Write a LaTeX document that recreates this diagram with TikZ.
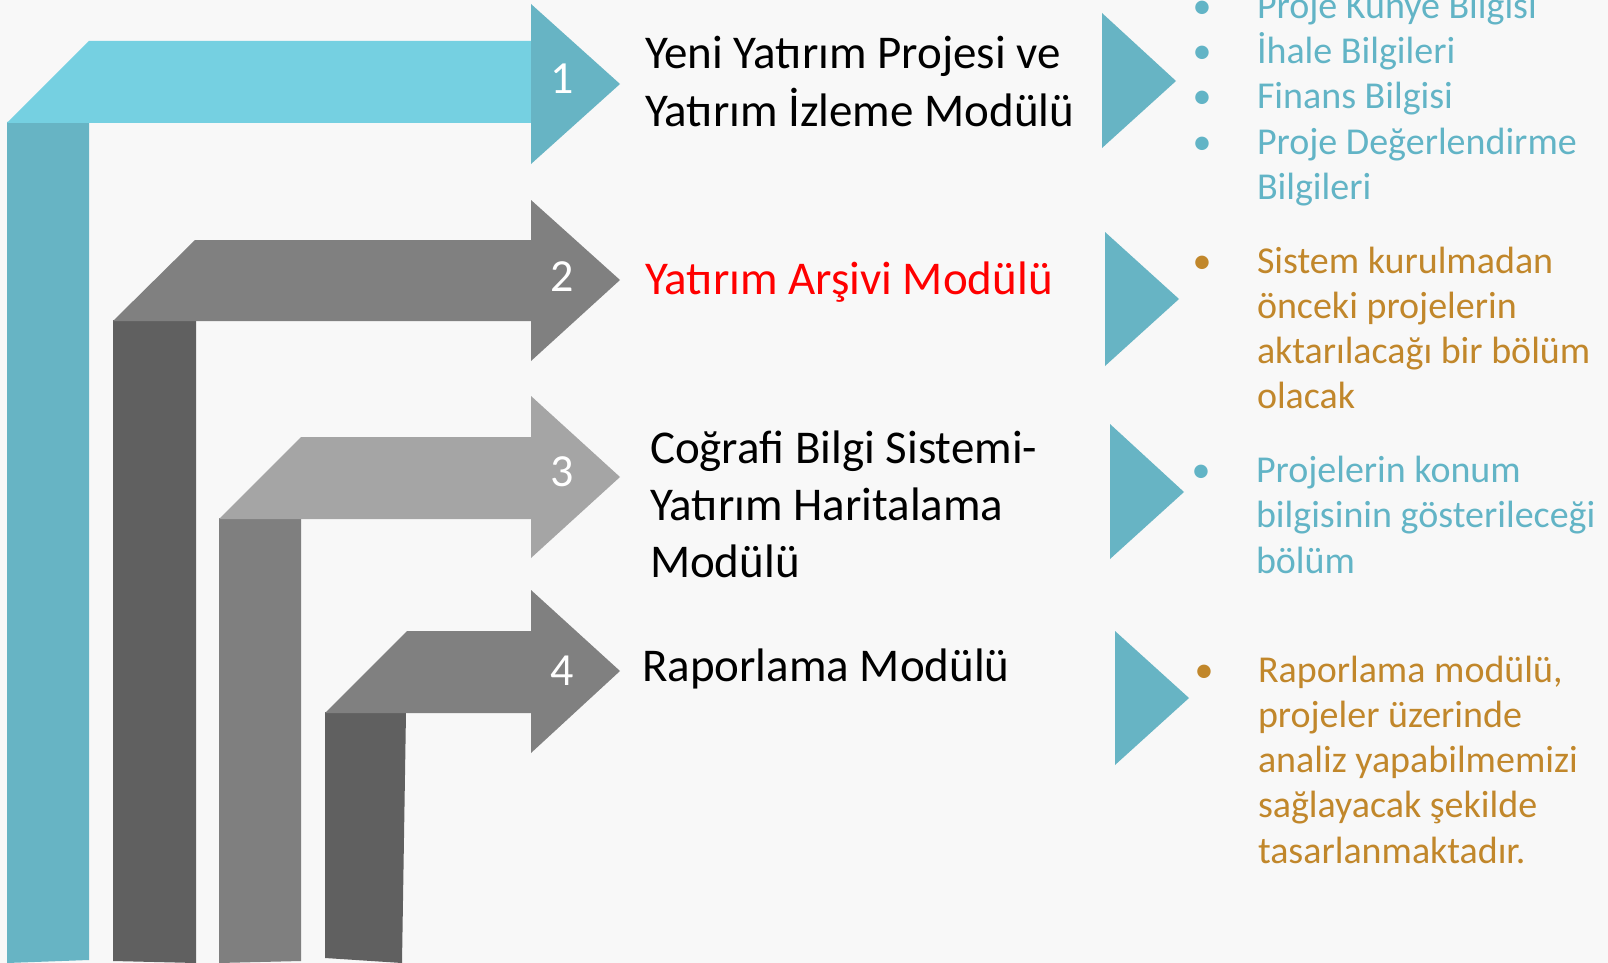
\documentclass[tikz,border=0pt]{standalone}
\usepackage{fontspec}
\setmainfont{Carlito}
\usetikzlibrary{positioning}

\definecolor{bgGray}{HTML}{F8F8F8}
\definecolor{lightCyan}{HTML}{75D0E1}
\definecolor{tealBlue}{HTML}{67B4C4}
\definecolor{midGray}{HTML}{808080}
\definecolor{darkGray}{HTML}{606060}
\definecolor{paleGray}{HTML}{A5A5A5}
\definecolor{stoneGray}{HTML}{7F7F7F}
\definecolor{tealText}{HTML}{62B4C6}
\definecolor{goldText}{HTML}{C1872B}
\definecolor{redText}{HTML}{FF0000}

\begin{document}
\begin{tikzpicture}[
    x=1pt, y=-1pt,
    every node/.style={inner sep=0pt, outer sep=0pt},
    title/.style={anchor=base west, align=left, text=black,
        font=\fontsize{47}{57.3}\selectfont},
    number/.style={text=white, font=\fontsize{46}{56}\selectfont},
    dot/.style={anchor=base, font=\fontsize{38}{45.3}\selectfont},
    item/.style={anchor=base west, align=left,
        font=\fontsize{38}{45.3}\selectfont},
    pointer/.style={fill=tealBlue}
]

% Background
\useasboundingbox (0,0) rectangle (1608,963);
\fill[bgGray] (0,0) rectangle (1608,963);

% Arrow 1 (teal)
\fill[tealBlue] (7,122) -- (89,122) -- (89,960) -- (7,963) -- cycle;
\fill[lightCyan] (7,123) -- (89,41) -- (531,41) -- (531,123) -- cycle;
\fill[tealBlue] (531,4) -- (620,84) -- (531,164) -- cycle;

% Arrow 2 (gray)
\fill[darkGray] (113,320) -- (196,320) -- (196,963) -- (113,961) -- cycle;
\fill[midGray] (113,321) -- (195,240) -- (531,240) -- (531,200) -- (620,280)
    -- (531,361) -- (531,321) -- cycle;

% Arrow 3 (light gray)
\fill[stoneGray] (219,518) -- (301,518) -- (301,961) -- (219,963) -- cycle;
\fill[paleGray] (219,519) -- (301,437) -- (531,437) -- (531,396) -- (620,477)
    -- (531,558) -- (531,519) -- cycle;

% Arrow 4 (gray)
\fill[darkGray] (325,712) -- (406,712) -- (402,963) -- (325,958) -- cycle;
\fill[midGray] (325,713) -- (407,631) -- (531,631) -- (531,590) -- (620,671)
    -- (531,753) -- (531,713) -- cycle;

% Step numbers
\node[number] (num1) at (562,79) {1};
\node[number] (num2) at (562,277) {2};
\node[number] (num3) at (562,472) {3};
\node[number] (num4) at (562,671) {4};

% Module titles (anchored on the last line)
\node[title] (title1) at (645,126.3) {Yeni Yatırım Projesi ve\\Yatırım İzleme Modülü};
\node[title, text=redText] (title2) at (645,294) {Yatırım Arşivi Modülü};
\node[title] (title3) at (650,577.6) {Coğrafi Bilgi Sistemi-\\Yatırım Haritalama\\Modülü};
\node[title] (title4) at (642,681) {Raporlama Modülü};

% Pointers to the details
\fill[pointer] (1102,13) -- (1176,81) -- (1102,148) -- cycle;
\fill[pointer] (1105,232) -- (1179,299) -- (1105,366) -- cycle;
\fill[pointer] (1110,424) -- (1184,492) -- (1110,559) -- cycle;
\fill[pointer] (1115,631) -- (1189,698) -- (1115,765) -- cycle;

% Details of module 1
\node[dot, text=tealText] (dot1a) at (1202,18.5) {•};
\node[item, text=tealText] (item1a) at (1257,18.5) {Proje Künye Bilgisi};
\node[dot, text=tealText] (dot1b) at (1202,63.5) {•};
\node[item, text=tealText] (item1b) at (1257,63.5) {İhale Bilgileri};
\node[dot, text=tealText] (dot1c) at (1202,108.5) {•};
\node[item, text=tealText] (item1c) at (1257,108.5) {Finans Bilgisi};
\node[dot, text=tealText] (dot1d) at (1202,154) {•};
\node[item, text=tealText] (item1d) at (1257,199.3) {Proje Değerlendirme\\Bilgileri};

% Details of module 2
\node[dot, text=goldText] (dot2) at (1202,273) {•};
\node[item, text=goldText] (item2) at (1257,408.9) {Sistem kurulmadan\\önceki projelerin\\aktarılacağı bir bölüm\\olacak};

% Details of module 3
\node[dot, text=tealText] (dot3) at (1201,482.5) {•};
\node[item, text=tealText] (item3) at (1256,573.1) {Projelerin konum\\bilgisinin gösterileceği\\bölüm};

% Details of module 4
\node[dot, text=goldText] (dot4) at (1204,682) {•};
\node[item, text=goldText] (item4) at (1258,863.2) {Raporlama modülü,\\projeler üzerinde\\analiz yapabilmemizi\\sağlayacak şekilde\\tasarlanmaktadır.};

\end{tikzpicture}
\end{document}
